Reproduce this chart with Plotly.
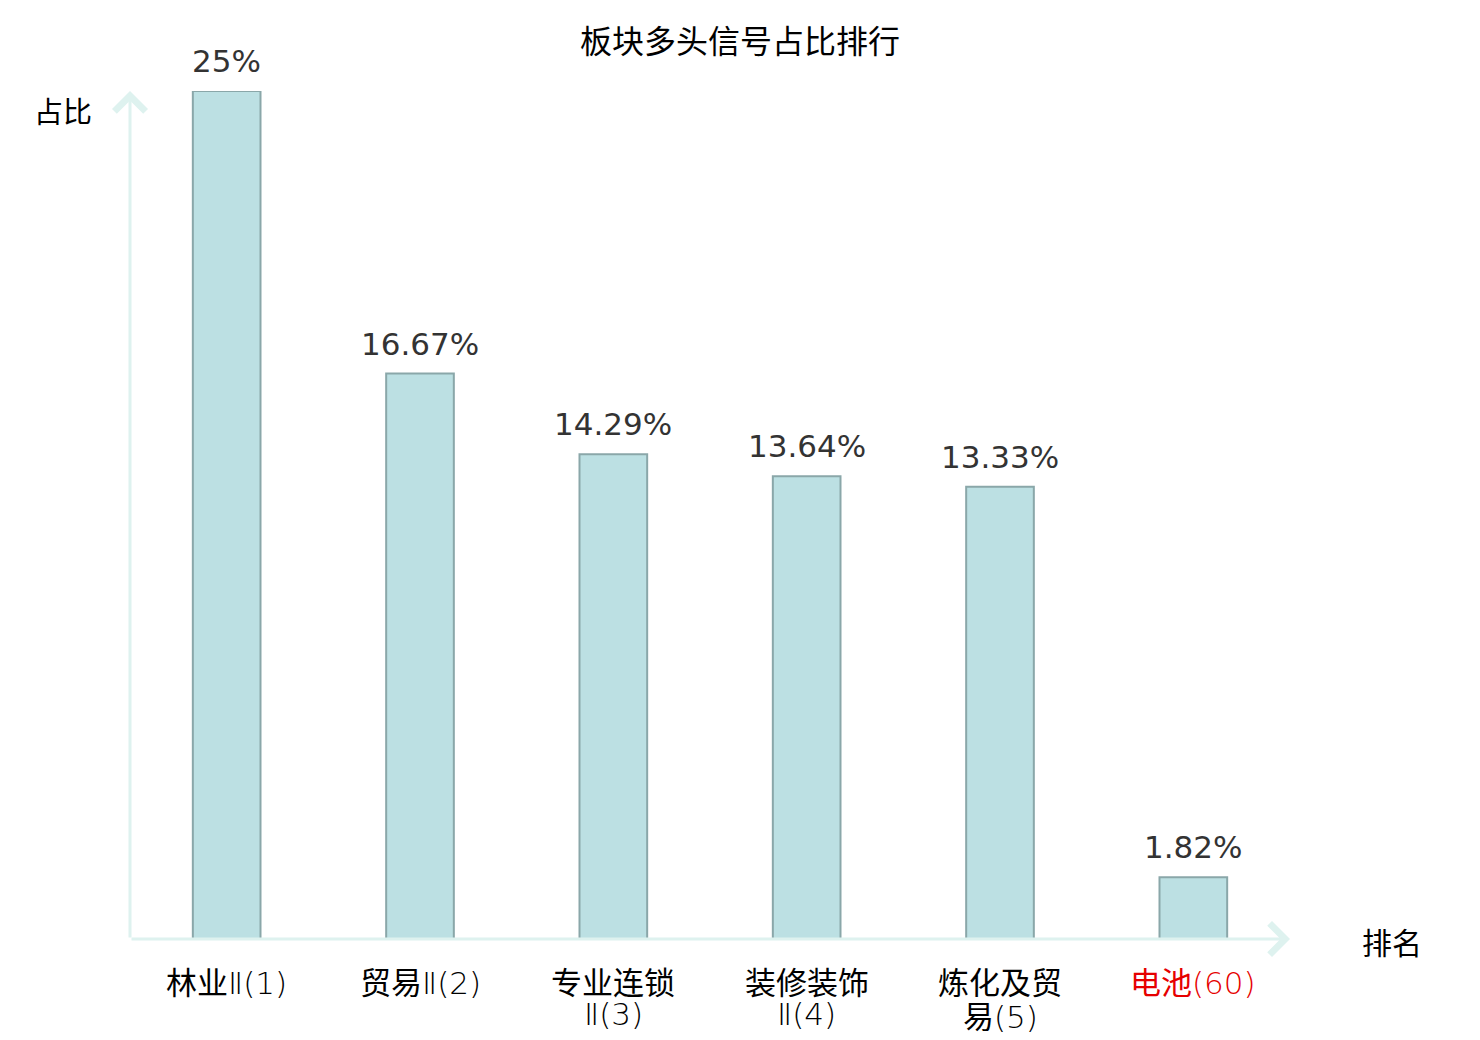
import plotly.graph_objects as go

cat_line1 = ["林业", "贸易", "专业连锁", "装修装饰", "炼化及贸", "电池"]
cat_line1_suffix = ["Ⅱ(1)", "Ⅱ(2)", "", "", "", "(60)"]
cat_line2_main = ["", "", "", "", "易", ""]
cat_line2_suffix = ["", "", "Ⅱ(3)", "Ⅱ(4)", "(5)", ""]
values = [25, 16.67, 14.29, 13.64, 13.33, 1.82]
value_labels = ["25%", "16.67%", "14.29%", "13.64%", "13.33%", "1.82%"]
label_colors = ["#000000", "#000000", "#000000", "#000000", "#000000", "#e60000"]

xs = list(range(len(cat_line1)))
FONT = "Noto Sans CJK SC, DejaVu Sans, sans-serif"
LIGHT = '<span style="font-family:DejaVu Sans;font-weight:200">{}</span>'

OFF = 8  # page body margin
fig = go.Figure()
fig.add_trace(go.Bar(
    x=xs, y=values, width=0.35,
    marker=dict(color="#bce0e3", line=dict(color="#8aa7a9", width=2)),
    hoverinfo="skip",
))

axis_color = "#def2ef"
fig.update_layout(
    width=1480, height=1040,
    margin=dict(l=130 - OFF, r=190 + OFF, t=91 - OFF, b=101 + OFF, autoexpand=False),
    paper_bgcolor="white", plot_bgcolor="white",
    showlegend=False,
    title=dict(text="板块多头信号占比排行", x=(740 - OFF) / 1480, xanchor="center", xref="container",
               y=1 - (42 - OFF) / 1040, yanchor="middle",
               font=dict(size=32, color="#000000", family=FONT)),
    xaxis=dict(range=[-0.5, 5.5], showticklabels=False, automargin=False,
               showgrid=False, zeroline=False, showline=False, ticks=""),
    yaxis=dict(range=[0, 25], showgrid=False, zeroline=False, showline=False,
               showticklabels=False, automargin=False),
    font=dict(family=FONT),
)

# value labels above bars
for x, v, t in zip(xs, values, value_labels):
    fig.add_annotation(x=x, y=v, text=t, showarrow=False, yanchor="middle", yshift=30,
                       font=dict(size=31, color="#333333", family="DejaVu Sans"))

# category labels, two tight lines where the name wraps
for x, m1, s1, m2, s2, c in zip(xs, cat_line1, cat_line1_suffix, cat_line2_main, cat_line2_suffix, label_colors):
    t1 = m1 + (LIGHT.format(s1) if s1 else "")
    fig.add_annotation(x=x, y=0, text=f'<span style="color:{c}">{t1}</span>', showarrow=False,
                       yanchor="middle", yshift=-41,
                       font=dict(size=31, color=c, family=FONT))
    if m2 or s2:
        t2 = m2 + (LIGHT.format(s2) if s2 else "")
        fig.add_annotation(x=x, y=0, text=f'<span style="color:{c}">{t2}</span>', showarrow=False,
                           yanchor="middle", yshift=-75,
                           font=dict(size=31, color=c, family=FONT))

# axis lines with arrowheads
fig.add_annotation(xref="x domain", yref="y domain", axref="x domain", ayref="y domain",
                   x=1.0, y=0, ax=0, ay=0, showarrow=True, arrowhead=4, arrowsize=2,
                   arrowwidth=3, arrowcolor=axis_color, text="")
fig.add_annotation(xref="x domain", yref="y domain", axref="x domain", ayref="y domain",
                   x=0, y=1.0, ax=0, ay=0, showarrow=True, arrowhead=4, arrowsize=2,
                   arrowwidth=3, arrowcolor=axis_color, text="")

fig.add_annotation(xref="paper", yref="paper", x=(63 - 130) / 1160, y=(939 - 110) / 848, text="占比",
                   xanchor="center", yanchor="middle",
                   showarrow=False, font=dict(size=29, color="#000000", family=FONT))
fig.add_annotation(xref="paper", yref="paper", x=(1392 - 130) / 1160, y=(939 - 941) / 848, text="排名",
                   xanchor="center", yanchor="middle",
                   showarrow=False, font=dict(size=30, color="#000000", family=FONT))

fig.write_html("out.html")
